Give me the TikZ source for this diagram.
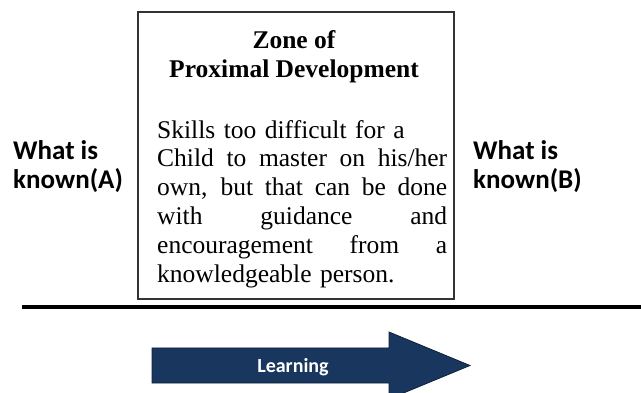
\documentclass[tikz,border=0pt]{standalone}
\usepackage{fontspec}
\setmainfont{Liberation Serif}
\newfontfamily\calibri{Carlito}
\definecolor{arrowblue}{RGB}{24,54,94}
\definecolor{arrowedge}{RGB}{14,32,58}
% one justified line of the box text
\newcommand\fullline[1]{\makebox[290pt][s]{\spaceskip=0.25em plus 1fil\relax #1}}

\begin{document}
\begin{tikzpicture}[x=1pt,y=-1pt,
    every node/.style={inner sep=0pt},
    side/.style={font=\calibri\bfseries\fontsize{27}{29}\selectfont, align=left, anchor=north west}]
    \useasboundingbox (0,0) rectangle (641,393);

    % the zone box, heading and text
    \node[draw=black!80, line width=1.2pt, minimum width=316pt, minimum height=287pt] (zone) at (296,155.5) {};
    \node[anchor=north, align=center, font=\bfseries\fontsize{25.5}{29}\selectfont] (title) at (294,30.5)
      {Zone of\\Proximal Development};
    \node[anchor=north west, text width=290pt, align=left, font=\fontsize{25.5}{28.8}\selectfont] (skills) at (157,120) {%
      Skills too difficult for a\\
      \fullline{Child to master on his/her}\\
      \fullline{own, but that can be done}\\
      \fullline{with guidance and}\\
      \fullline{encouragement from a}\\
      knowledgeable person.};

    \node[side] (knownA) at (13,140) {What is\\known(A)};
    \node[side] (knownB) at (473,140) {What is\\known(B)};

    % base line
    \draw[line width=4pt] (22,307) -- (641,307);

    % learning arrow
    \filldraw[fill=arrowblue, draw=arrowedge, line width=0.8pt]
      (152,348) -- (389,348) -- (389,332) -- (470,365.5) -- (389,399) -- (389,383) -- (152,383) -- cycle;
    \node[font=\calibri\bfseries\fontsize{20}{24}\selectfont, text=white, anchor=base] (learn) at (293,373) {Learning};

  \end{tikzpicture}
\end{document}
